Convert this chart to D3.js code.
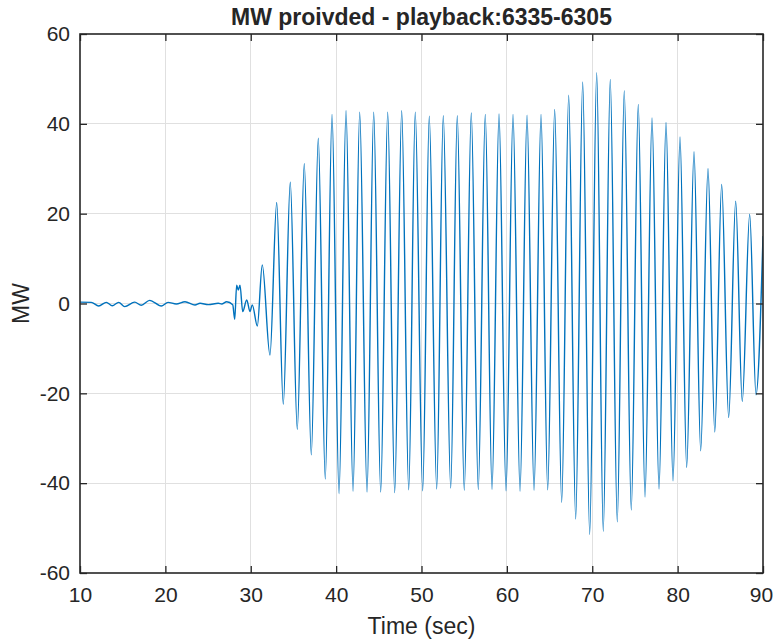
<!DOCTYPE html>
<html>
<head>
<meta charset="utf-8">
<script src="https://cdn.jsdelivr.net/npm/d3@7"></script>
<style>
  body { margin: 0; background: #fff; }
  text { font-family: "Liberation Sans", Arial, Helvetica, sans-serif; fill: #262626; }
</style>
</head>
<body>
<svg id="chart" width="773" height="639"></svg>
<script>
// Turning points of the MW trace (time in seconds, power in MW)
const timeSec = [
  10.0, 11.32, 12.19, 13.08, 13.78, 14.53, 15.24, 16.41, 17.18, 18.16, 19.52, 20.31, 21.28,
  22.30, 23.47, 24.06, 25.03, 26.2, 26.6, 27.18, 27.89, 28.12, 28.35, 28.54, 28.74, 29.06,
  29.53, 29.91, 30.18, 30.77, 31.35, 32.25,
  33.04, 33.81, 34.63, 35.45, 36.27, 37.09, 37.91, 38.73, 39.52, 40.34,
  41.16, 41.98, 42.76, 43.62, 44.40, 45.22, 46.04, 46.86, 47.68, 48.50,
  49.27, 50.14, 50.91, 51.78, 52.55, 53.42, 54.19, 55.01, 55.83, 56.65,
  57.47, 58.26, 59.08, 59.90, 60.72, 61.54, 62.36, 63.18, 64.00, 64.78,
  65.60, 66.42, 67.24, 68.06, 68.88, 69.70, 70.52, 71.29, 72.11, 72.93,
  73.75, 74.57, 75.39, 76.18, 77.00, 77.82, 78.64, 79.46, 80.28, 81.06,
  81.92, 82.70, 83.56, 84.35, 85.16, 85.98, 86.80, 87.57, 88.44, 89.18, 90.0
];
const mwValues = [
  0.3, 0.26, -0.56, 0.26, -0.5, 0.26, -0.7, 0.3, -0.4, 0.7, -0.56, 0.26, -0.1,
  0.4, -0.33, 0.04, -0.26, 0.05, -0.1, 0.4, -0.3, -3.5, 4.1, 3.0, 4.1, -1.8,
  0.8, -1.8, -0.3, -5.0, 8.6, -11.5,
  22.5, -22.4, 27.0, -28.0, 31.1, -33.7, 36.8, -39.1, 42.1, -42.3,
  42.9, -41.8, 42.6, -42.0, 42.6, -42.0, 42.6, -42.1, 42.9, -41.5,
  42.6, -41.7, 41.7, -41.3, 41.8, -41.1, 41.8, -41.6, 42.4, -41.4,
  42.1, -41.4, 42.2, -41.7, 42.1, -41.8, 41.9, -41.6, 42.1, -41.5,
  43.2, -44.3, 46.4, -48.0, 49.3, -51.4, 51.4, -50.7, 49.9, -48.6,
  47.4, -46.0, 44.3, -43.1, 41.3, -41.3, 40.3, -39.5, 37.1, -36.5,
  33.8, -32.8, 30.0, -28.6, 26.5, -25.4, 22.8, -21.8, 19.9, -20.3, 15.0
];
const xTicks = [10, 20, 30, 40, 50, 60, 70, 80, 90];
const yTicks = [-60, -40, -20, 0, 20, 40, 60];

const titleText = "MW proivded - playback:6335-6305";
const xLabel = "Time (sec)";
const yLabel = "MW";

const W = 773, H = 639;
const margin = { top: 34, right: 10, bottom: 66, left: 80 };
const iw = W - margin.left - margin.right;
const ih = H - margin.top - margin.bottom;

const svg = d3.select("#chart");
const g = svg.append("g").attr("transform", `translate(${margin.left},${margin.top})`);

const x = d3.scaleLinear().domain([10, 90]).range([0, iw]);
const y = d3.scaleLinear().domain([-60, 60]).range([ih, 0]);

// grid
g.append("g").selectAll("line").data(xTicks.slice(1, -1)).join("line")
  .attr("x1", d => x(d)).attr("x2", d => x(d)).attr("y1", 0).attr("y2", ih)
  .attr("stroke", "#e0e0e0").attr("stroke-width", 1).attr("shape-rendering", "crispEdges");
g.append("g").selectAll("line").data(yTicks.slice(1, -1)).join("line")
  .attr("y1", d => y(d)).attr("y2", d => y(d)).attr("x1", 0).attr("x2", iw)
  .attr("stroke", "#e0e0e0").attr("stroke-width", 1).attr("shape-rendering", "crispEdges");

// trace
g.append("clipPath").attr("id", "plotClip").append("rect")
  .attr("width", iw).attr("height", ih);
const pts = timeSec.map((t, i) => [t, mwValues[i]]);
const line = d3.line().x(d => x(d[0])).y(d => y(d[1])).curve(d3.curveMonotoneX);
g.append("path").datum(pts)
  .attr("clip-path", "url(#plotClip)")
  .attr("fill", "none").attr("stroke", "#0072BD").attr("stroke-width", 1.4)
  .attr("d", line);

// axes (ticks point inward, box on)
const tl = 7;
const plainNum = d => String(d);
const styleAxis = sel => {
  sel.select(".domain").remove();
  sel.selectAll(".tick line").attr("stroke", "#262626").attr("stroke-width", 1.3);
  sel.selectAll(".tick text").style("font-size", "21px").attr("fill", "#262626");
};
const xAxisG = g.append("g").attr("transform", `translate(0,${ih})`)
  .call(d3.axisBottom(x).tickValues(xTicks).tickFormat(plainNum)
    .tickSizeInner(-tl).tickSizeOuter(0).tickPadding(14))
  .call(styleAxis);
// keep the last label inside the page
xAxisG.selectAll(".tick text").filter(d => d === xTicks[xTicks.length - 1]).attr("dx", -2);
g.append("g")
  .call(d3.axisLeft(y).tickValues(yTicks).tickFormat(plainNum)
    .tickSizeInner(-tl).tickSizeOuter(0).tickPadding(10))
  .call(styleAxis);
g.append("g")
  .call(d3.axisTop(x).tickValues(xTicks).tickSizeInner(-tl).tickSizeOuter(0).tickFormat(""))
  .call(styleAxis);
g.append("g").attr("transform", `translate(${iw},0)`)
  .call(d3.axisRight(y).tickValues(yTicks).tickSizeInner(-tl).tickSizeOuter(0).tickFormat(""))
  .call(styleAxis);
g.append("rect").attr("width", iw).attr("height", ih)
  .attr("fill", "none").attr("stroke", "#262626").attr("stroke-width", 1.6);

// labels
svg.append("text").attr("x", margin.left + iw / 2).attr("y", 25)
  .attr("text-anchor", "middle").style("font-size", "23px").style("font-weight", "bold")
  .attr("fill", "#000").text(titleText);
svg.append("text").attr("x", margin.left + iw / 2).attr("y", 634)
  .attr("text-anchor", "middle").style("font-size", "23px").text(xLabel);
svg.append("text").attr("transform", `translate(29,${margin.top + ih / 2}) rotate(-90)`)
  .attr("text-anchor", "middle").style("font-size", "23px").text(yLabel);
</script>
</body>
</html>
